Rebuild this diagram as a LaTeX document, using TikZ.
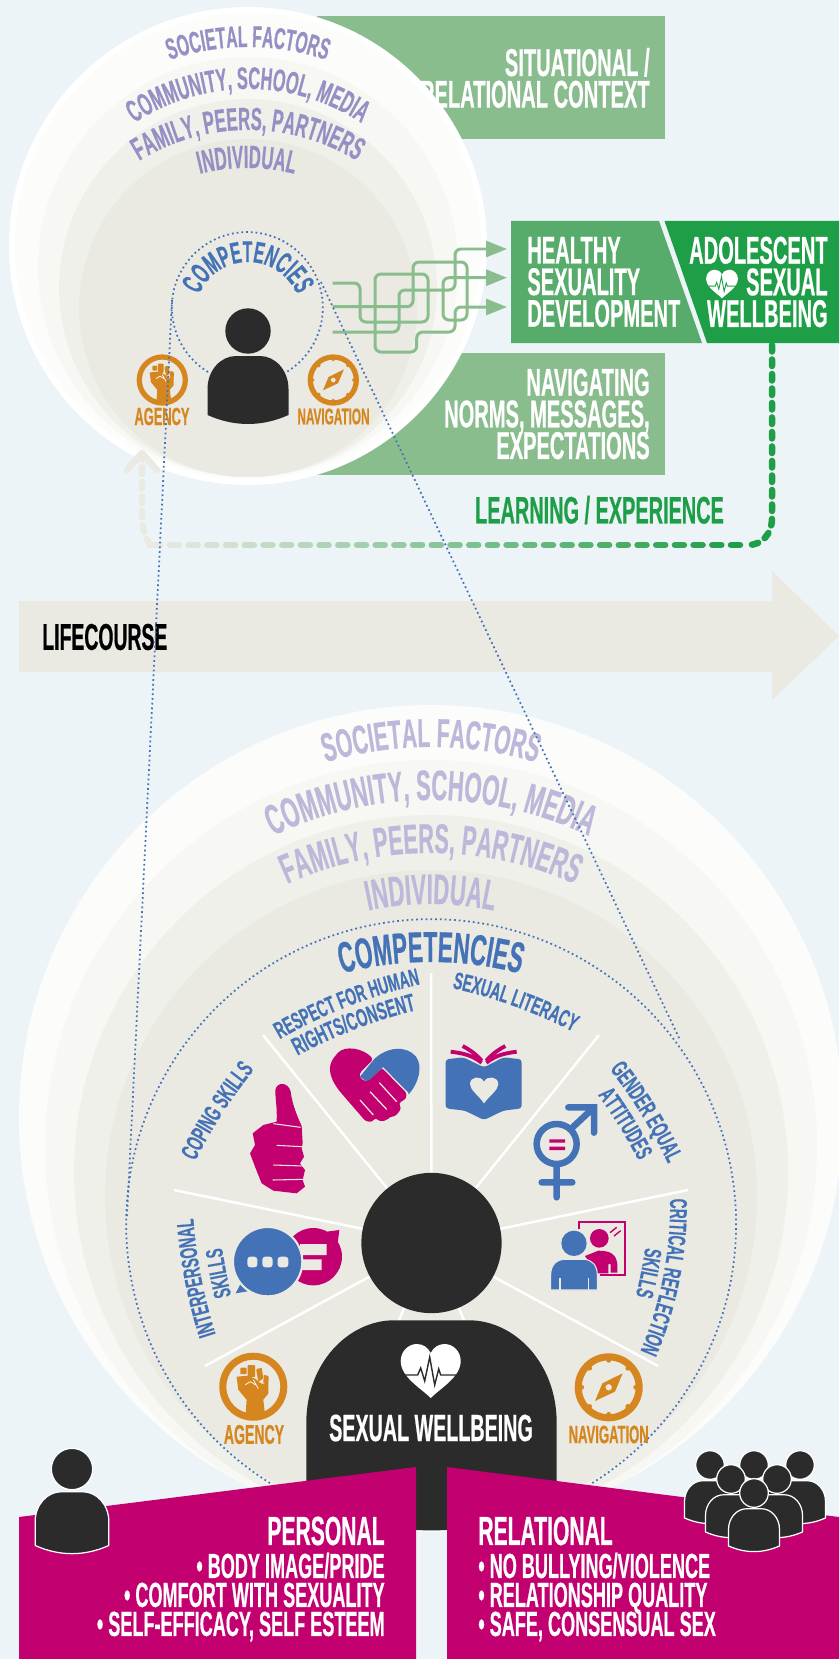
\documentclass[tikz,border=0pt]{standalone}
\usepackage{fontspec}
\usetikzlibrary{decorations.text,arrows.meta}
\newfontfamily\bebas{Liberation Sans Bold}[FakeStretch=0.52,FakeBold=0.5]
\newfontfamily\bebaslow{Liberation Sans Bold}[FakeStretch=0.57,FakeBold=0.4]
\newcommand{\bbf}[2]{\bebas\fontsize{\fpeval{#1*1.1}}{#2}\selectfont\lineskiplimit=-100pt}
\newcommand{\bbw}[1]{\color{compblue}\bebaslow\fontsize{#1}{14}\selectfont}
\definecolor{bgblue}{HTML}{ECF4F8}
\definecolor{ringa}{HTML}{FCFCFA}
\definecolor{ringb}{HTML}{F7F7F3}
\definecolor{ringc}{HTML}{F0F0EB}
\definecolor{ringd}{HTML}{EAE9E2}
\definecolor{ctxgreen}{HTML}{8ABD8E}
\definecolor{midgreen}{HTML}{57AB6B}
\definecolor{darkgreen}{HTML}{1F9E48}
\definecolor{figdark}{HTML}{2B2B2B}
\definecolor{lavtop}{HTML}{9590C4}
\definecolor{lavbig}{HTML}{BDB8DA}
\definecolor{compblue}{HTML}{4472B7}
\definecolor{magent}{HTML}{C2006F}
\definecolor{ochre}{HTML}{D6861F}
\tikzset{
    boxtext/.style={text=white, inner sep=0pt, font=\bbf{20}{18}},
    iconname/.style={text=ochre, inner sep=0pt},
    listtext/.style={text=white, inner sep=0pt, font=\bbf{18}{16.5}},
    headtext/.style={text=white, inner sep=0pt, font=\bbf{21}{21}},
    wire/.style={ctxgreen, line width=.06cm, rounded corners=.12cm, -{Triangle[length=.42cm,width=.32cm]}},
    dots/.style={compblue, line width=1pt, dash pattern=on 1pt off 1.7pt},
    spoke/.style={white, line width=.05cm},
    loopdash/.style={line width=.13cm, line cap=round, dash pattern=on .13cm off .16cm},
    pics/personfig/.style={code={
        \path[pic actions] (0,0) circle[radius=22.7];
        \path[pic actions] (-40.5,84) -- (-40.5,58) .. controls (-40.5,39) and (-27,25) .. (-12,25) -- (12,25)
            .. controls (27,25) and (40.5,39) .. (40.5,58) -- (40.5,84) .. controls (14,96) and (-14,96) .. (-40.5,84) -- cycle;
    }},
    pics/fistfig/.style={code={
        \fill[ochre, even odd rule] (0,0) circle[radius=34] (0,0) circle[radius=27];
        \fill[ochre] (-7.7,28) -- (-6.7,13) -- (-15,3) -- (-16.7,-10) -- (-6,-11) -- (2,-8) -- (8,-3) -- (15,-3) -- (15,7) -- (10,13) -- (11.7,28) -- cycle;
        \fill[ochre, rounded corners=.5pt] (-13,-19) rectangle (-6.7,-12.5);
        \fill[ochre, rounded corners=.5pt] (-5.7,-21.7) rectangle (1.7,-9.5);
        \fill[ochre, rounded corners=.5pt] (2.8,-17.5) -- (8.5,-19) -- (10,-8) -- (5,-5) -- cycle;
        \fill[ochre, rounded corners=.5pt] (10.5,-12) -- (15.5,-10.5) -- (15,-2) -- (10,-3.5) -- cycle;
        \draw[white, line width=.4pt] (-8,-2) -- (-3,-5) -- (2,-2) (0,-7) -- (5,2);
    }},
    pics/compassfig/.style={code={
        \fill[ochre, even odd rule] (0,0) circle[radius=34] (0,0) circle[radius=27];
        \foreach \a in {0,45,...,315} \fill[ochre] (\a:27) circle[radius=2.4];
        \fill[ochre, even odd rule] (14,-14) -- (-6.3,-4) -- (-13.7,13.7) -- (6.3,4.3) -- cycle (0,0) circle[radius=3.3];
    }},
    pics/heartfig/.style={code={
        \fill[white] (0,27) .. controls (-10,17) and (-30,6) .. (-30,-10) .. controls (-30,-20) and (-22,-27) .. (-14,-27)
            .. controls (-8,-27) and (-3,-24) .. (0,-18) .. controls (3,-24) and (8,-27) .. (14,-27)
            .. controls (22,-27) and (30,-20) .. (30,-10) .. controls (30,6) and (10,17) .. (0,27) -- cycle;
        \draw[#1] (-27,4) -- (-13,4) -- (-10,-3) -- (-6,10) -- (-1,-14) -- (4,14) -- (8,-2) -- (10,4) -- (27,4);
    }}
}
\newcommand{\arclabel}[6]{
    \pgfmathsetmacro\rcm{#3*.02}
    \path[decorate, decoration={text along path, text align=center, text={|#5|#6}}]
        ([shift={(#4+80:\rcm cm)}]#1,#2) arc[start angle=#4+80, end angle=#4-80, radius=\rcm cm];
}
\begin{document}
\begin{tikzpicture}[x=.02cm, y=-.02cm]
    \useasboundingbox (0,0) rectangle (839,1659);
    \clip (0,0) rectangle (839,1659);
    \fill[bgblue] (0,0) rectangle (839,1659);

    % context boxes behind the small circles
    \fill[ctxgreen] (317,16) rectangle (665,139);
    \fill[ctxgreen] (317,353) rectangle (665,475);
    \node[boxtext, align=right, anchor=east] (situational) at (650,78) {SITUATIONAL /\\RELATIONAL CONTEXT};
    \node[boxtext, align=right, anchor=east] (navigating) at (650,414) {NAVIGATING\\NORMS, MESSAGES,\\EXPECTATIONS};

    % small circles
    \fill[white] (248,246) circle[radius=239];
    \fill[ringa] (248,246) circle[radius=233];
    \fill[ringb] (248,267) circle[radius=210];
    \fill[ringc] (248,288) circle[radius=189];
    \fill[ringd] (248,308) circle[radius=169];

    \arclabel{248}{287}{240}{90}{\color{lavtop}\bbf{15.6}{16}}{SOCIETAL FACTORS}
    \arclabel{248}{295}{206}{90}{\color{lavtop}\bbf{16.2}{16}}{COMMUNITY, SCHOOL, MEDIA}
    \arclabel{248}{337}{207}{90}{\color{lavtop}\bbf{16.6}{16}}{FAMILY, PEERS, PARTNERS}
    \arclabel{247}{363}{195}{90}{\color{lavtop}\bbf{16.6}{16}}{INDIVIDUAL}

    % outcome boxes
    \fill[midgreen] (511,221) -- (659,221) -- (702,343) -- (511,343) -- cycle;
    \fill[darkgreen] (664.5,221) -- (839,221) -- (839,343) -- (707,343) -- cycle;
    \node[boxtext, align=left, anchor=west] (healthy) at (527,282) {HEALTHY\\SEXUALITY\\DEVELOPMENT};
    \node[boxtext, align=right, anchor=east] (adolescent) at (828,282) {ADOLESCENT\\SEXUAL\\WELLBEING};
    \pic[scale=.53] (smallheart) at (722,284) {heartfig={darkgreen, line width=.5pt}};

    % wires
    \coordinate (tiptop) at (507,249);
    \coordinate (tipmid) at (507,277.7);
    \coordinate (tiplow) at (507,307);
    \draw[wire] (332.7,283) -- (360,283) -- (360,322) -- (428,322) -- (428,274) -- (375,274) -- (375,352) -- (416.7,352) -- (416.7,332) -- (455,332) -- (455,307) -- (tiplow);
    \draw[wire] (332.7,306.7) -- (413,306.7) -- (413,262) -- (467,262) -- (467,320) -- (443,320) -- (443,277.7) -- (tipmid);
    \draw[wire] (332.7,332) -- (399,332) -- (399,290) -- (455,290) -- (455,249) -- (tiptop);

    % small figure
    \draw[dots] (208,372) arc[start angle=238.6, end angle=-58.6, radius=1.51cm];
    \arclabel{248}{315}{53}{90}{\color{compblue}\bbf{15.5}{14}}{COMPETENCIES}
    \pic[fill=figdark] (smallperson) at (248,331) {personfig};
    \pic[scale=.755] (smallfist) at (162.3,380) {fistfig};
    \pic[scale=.755] (smallcompass) at (333.3,380) {compassfig};
    \node[iconname, font=\bbf{12.8}{13}] (smallagency) at (162,416.5) {AGENCY};
    \node[iconname, font=\bbf{11.7}{12}] (smallnav) at (333.5,416.5) {NAVIGATION};

    % learning loop
    \coordinate (loopstart) at (772,345);
    \draw[loopdash, darkgreen] (loopstart) -- (772,518) .. controls (772,534) and (762,545) .. (748,545);
    \foreach \i in {0,...,31} {
        \pgfmathtruncatemacro\mixv{100-\i*100/31}
        \pgfmathsetmacro\xa{740-\i*18.7}
        \draw[line width=.13cm, line cap=round, darkgreen!\mixv!ringd] (\xa,545) -- (\xa-9,545);
    }
    \draw[loopdash, ringd] (150,545) .. controls (146,538) and (142,530) .. (142,515) -- (142,458);
    \draw[ringd, line width=.13cm, line cap=round, line join=round] (127,470) -- (142,453) -- (157,470);
    \node[inner sep=0pt, text=darkgreen, font=\bbf{19.8}{20}] (learning) at (599.5,510) {LEARNING / EXPERIENCE};

    % lifecourse arrow
    \fill[ringd] (19,601) -- (772,601) -- (772,571) -- (839,636) -- (772,700) -- (772,672) -- (19,672) -- cycle;
    \node[inner sep=0pt, anchor=west, font=\bbf{19.3}{20}] (lifecourse) at (42,637) {LIFECOURSE};

    % big circles
    \fill[ringa] (431,1117) circle[radius=412];
    \fill[ringb] (431,1146) circle[radius=386];
    \fill[ringc] (431,1172) circle[radius=357];
    \fill[ringd] (431,1196) circle[radius=326];

    \arclabel{431}{1115}{368}{90}{\color{lavbig}\bbf{20.9}{22}}{SOCIETAL FACTORS}
    \arclabel{431}{1165}{365}{90}{\color{lavbig}\bbf{22}{22}}{COMMUNITY, SCHOOL, MEDIA}
    \arclabel{431}{1202}{349}{90}{\color{lavbig}\bbf{21.5}{22}}{FAMILY, PEERS, PARTNERS}
    \arclabel{431}{1204}{300}{90}{\color{lavbig}\bbf{22}{22}}{INDIVIDUAL}

    % zoom lines
    \coordinate (smallleft) at (172,300);
    \coordinate (bigleft) at (127,1217);
    \coordinate (smallright) at (321,282);
    \coordinate (bigright) at (680,1040);
    \draw[dots] (smallleft) -- (bigleft);
    \draw[dots] (smallright) -- (bigright);
    \draw[dots] (270,1483) arc[start angle=238.1, end angle=-58.1, radius=6.1cm];

    % wheel
    \coordinate (hub) at (431.5,1243);
    \foreach \rx/\ry in {431/973, 263/1035, 599/1035, 174/1190, 688/1190, 205/1366, 658/1366, 397/1325, 466/1325}
        \draw[spoke] (hub) -- (\rx,\ry);
    \arclabel{431}{1312}{350}{90}{\color{compblue}\bbf{22.4}{23}}{COMPETENCIES}
    \arclabel{530.4}{1472}{500}{111.4}{\bbw{13.6}}{RESPECT FOR HUMAN}
    \arclabel{534.6}{1496}{500}{111}{\bbw{14.2}}{RIGHTS/CONSENT}
    \arclabel{344.7}{1476.6}{500}{70.2}{\bbw{13.8}}{SEXUAL LITERACY}
    \arclabel{643}{1384}{500}{147.3}{\bbw{14}}{COPING SKILLS}
    \arclabel{692}{1181.6}{500}{191}{\bbw{13.8}}{INTERPERSONAL}
    \arclabel{717}{1176.4}{500}{191}{\bbw{13.8}}{SKILLS}
    \arclabel{216.5}{1378.4}{500}{31.8}{\bbw{13.8}}{GENDER EQUAL}
    \arclabel{194.5}{1390.6}{500}{31.8}{\bbw{13.8}}{ATTITUDES}
    \arclabel{297}{1205.4}{373}{-11}{\bbw{13.8}}{CRITICAL REFLECTION}
    \arclabel{275}{1200.6}{373}{-11}{\bbw{13.8}}{SKILLS}

    % thumb
    \begin{scope}[shift={(230,1020)}, scale=1/3]
        \fill[magent] (140,305) .. controls (142,260) and (135,230) .. (136,210) .. controls (140,185) and (175,185) .. (182,215)
            .. controls (186,250) and (200,285) .. (215,318) -- (218,370) -- (215,385) -- (222,410) -- (210,430) -- (225,450) -- (218,480) -- (225,500)
            -- (200,520) -- (130,512) -- (95,490) -- (75,440) -- (60,400) -- (75,375) -- (68,340) -- (100,315) -- cycle;
        \draw[ringd, line width=.6pt] (130,311) -- (212,322) (140,376) -- (216,380) (130,435) -- (220,438) (128,480) -- (222,478);
        % handshake
        \fill[compblue] (432,118) .. controls (470,80) and (530,75) .. (558,110) .. controls (580,140) and (565,190) .. (537,222) -- (458,143) -- (412,186) -- (390,170) -- cycle;
        \fill[magent, rounded corners=.06cm] (430,118) .. controls (400,85) and (345,75) .. (318,105) .. controls (290,140) and (300,175) .. (330,215) -- (408,305) -- (430,305) -- (434,292) -- (450,305) -- (472,300) -- (478,290) -- (495,290) -- (515,265) -- (505,250) -- (530,235) -- (528,215) -- (458,143) -- (412,186) -- (390,175) -- (388,160) -- cycle;
        \draw[ringd, line width=.7pt] (390,240) -- (430,285) (420,215) -- (470,268) (448,188) -- (500,245) (458,143) -- (534,220);
        % book
        \fill[compblue, rounded corners=.06cm] (647,118) -- (700,112) -- (762,142) -- (820,112) -- (875,118) -- (875,265) -- (820,272) -- (762,300) -- (705,272) -- (647,265) -- cycle;
        \fill[ringd] (762,250) .. controls (745,225) and (720,210) .. (720,192) .. controls (720,170) and (752,165) .. (762,185) .. controls (772,165) and (805,170) .. (805,192) .. controls (805,210) and (780,225) .. (762,250) -- cycle;
        \draw[magent, line width=2.2pt] (755,128) .. controls (725,105) and (700,100) .. (662,95) (755,122) .. controls (735,100) and (720,90) .. (698,78)
            (769,128) .. controls (799,105) and (824,100) .. (860,95) (769,122) .. controls (789,100) and (804,90) .. (826,78);
        % gender sign
        \draw[compblue, line width=.13cm, line cap=round] (980,372) circle[radius=60] (1030,320) -- (1092,262) (1015,262) -- (1092,262) -- (1092,338) (980,432) -- (980,532) (935,487) -- (1027,487);
        \fill[magent] (958,358) rectangle (1005,368) (958,380) rectangle (1005,390);
    \end{scope}

    % speech bubbles and mirror
    \begin{scope}[shift={(200,1190)}, scale=1/3]
        \fill[magent] (340,200) circle[radius=86] (380,125) -- (418,120) -- (412,170) -- cycle;
        \fill[ringd] (300,162) rectangle (380,195) (300,208) rectangle (365,240);
        \fill[compblue] (125,275) -- (107,310) -- (165,300) -- cycle;
        \filldraw[fill=compblue, draw=ringd, line width=1.2pt] (203,215) circle[radius=104];
        \fill[ringd, rounded corners=.06cm] (142,200) rectangle (172,232) (187,200) rectangle (218,232) (233,200) rectangle (265,232);
        \draw[magent, line width=1.2pt] (1138,118) -- (1138,97) -- (1275,97) -- (1275,255) -- (1200,255);
        \draw[magent, line width=.8pt] (1230,128) -- (1250,112) (1242,138) -- (1262,122);
        \fill[magent] (1198,145) circle[radius=28];
        \fill[magent] (1155,198) -- (1195,182) .. controls (1235,182) and (1250,195) .. (1252,225) -- (1252,248) -- (1232,248) -- (1232,222) -- (1225,222) -- (1225,250) -- (1190,250) -- cycle;
        \fill[compblue] (1122,160) circle[radius=38];
        \filldraw[fill=compblue, draw=ringd, line width=.6pt] (1052,300) -- (1052,255) .. controls (1052,225) and (1070,208) .. (1095,208) -- (1150,208) .. controls (1175,208) and (1192,225) .. (1192,255) -- (1192,300) -- cycle;
        \draw[ringd, line width=.8pt] (1080,265) -- (1080,300) (1165,265) -- (1165,300);
    \end{scope}

    % big figure
    \pic[fill=figdark, scale=3.09] (bigperson) at (431.5,1243) {personfig};
    \pic (bigheart) at (430.7,1371) {heartfig={figdark, line width=.8pt}};
    \node[headtext, font=\bbf{19.6}{20}] (wellbeing) at (431,1428) {SEXUAL WELLBEING};
    \pic (bigfist) at (253.3,1386.7) {fistfig};
    \pic (bigcompass) at (608.7,1387.3) {compassfig};
    \node[iconname, font=\bbf{14}{14}] (bigagency) at (254,1434.5) {AGENCY};
    \node[iconname, font=\bbf{13}{13}] (bignav) at (608.7,1434.5) {NAVIGATION};

    % personal and relational panels
    \fill[magent] (19,1517) -- (416,1467) -- (416,1659) -- (19,1659) -- cycle;
    \fill[magent] (447,1467) -- (839,1517) -- (839,1659) -- (447,1659) -- cycle;
    \node[headtext, anchor=east] (personal) at (385,1531) {PERSONAL};
    \node[listtext, align=right, anchor=east] (personallist) at (385,1597) {• BODY IMAGE/PRIDE\\• COMFORT WITH SEXUALITY\\• SELF-EFFICACY, SELF ESTEEM};
    \node[headtext, anchor=west] (relational) at (478,1531) {RELATIONAL};
    \node[listtext, align=left, anchor=west] (relationallist) at (478,1597) {• NO BULLYING/VIOLENCE\\• RELATIONSHIP QUALITY\\• SAFE, CONSENSUAL SEX};

    \pic[fill=figdark, draw=white, line width=.7pt, scale=.91] (oneperson) at (72,1469) {personfig};
    \foreach \gx/\gy in {710/1465, 800/1465, 754/1465, 731/1479, 777/1479, 754/1493}
        \pic[fill=figdark, draw=white, line width=.7pt, scale=.63] at (\gx,\gy) {personfig};
\end{tikzpicture}
\end{document}
